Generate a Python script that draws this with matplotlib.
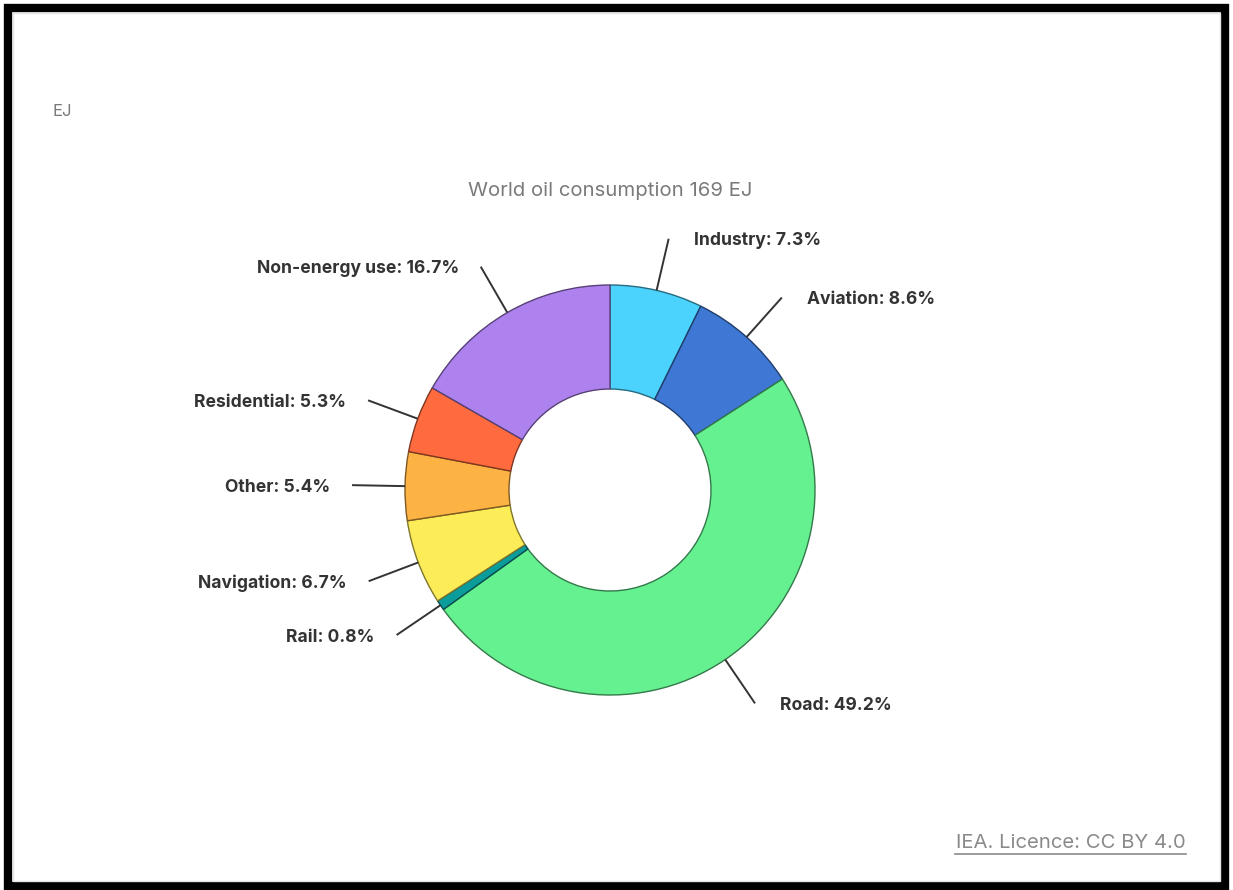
import numpy as np
import matplotlib
matplotlib.use("Agg")
import matplotlib.pyplot as plt
from matplotlib.colors import to_rgb
from matplotlib.patches import Rectangle

# world oil consumption by sector, share in %
sectors = ["Industry", "Aviation", "Road", "Rail", "Navigation",
           "Other", "Residential", "Non-energy use"]
shares = [7.3, 8.6, 49.2, 0.8, 6.7, 5.4, 5.3, 16.7]
colors = ["#4cd3fd", "#3f78d4", "#66f191", "#0b9c9c", "#fcec58",
          "#fdb244", "#ff6b3f", "#ae82ee"]

title = "World oil consumption 169 EJ"
unit = "EJ"
source = "IEA. Licence: CC BY 4.0"

W, H = 1233, 890
fig = plt.figure(figsize=(W / 100, H / 100), dpi=100)
ax = fig.add_axes([0, 0, 1, 1])

cx, cy = 610, H - 490
R = 205
hole = 101

wedges, _ = ax.pie(shares, colors=colors, startangle=90, counterclock=False,
                   center=(cx, cy), radius=R,
                   wedgeprops=dict(width=R - hole, linewidth=1.0))
for w, c in zip(wedges, colors):
    w.set_edgecolor(tuple(v * 0.5 for v in to_rgb(c)))

ax.set_xlim(0, W)
ax.set_ylim(0, H)
ax.axis("off")

# leader lines and labels
lab_font = dict(family=["Inter", "DejaVu Sans"], fontsize=12.6,
                fontweight="bold", color="#333333")
cum = np.cumsum([0] + shares)
for i, (name, s) in enumerate(zip(sectors, shares)):
    mid = np.deg2rad(90 - (cum[i] + s / 2) * 3.6)
    x0, y0 = cx + R * np.cos(mid), cy + R * np.sin(mid)
    x1, y1 = cx + 258 * np.cos(mid), cy + 258 * np.sin(mid)
    ax.plot([x0, x1], [y0, y1], color="#333333", lw=1.4, solid_capstyle="butt")
    if np.cos(mid) >= 0:
        ax.text(x1 + 25, y1 - 2, f"{name}: {s}%", ha="left", va="center", **lab_font)
    else:
        ax.text(x1 - 22, y1 - 2, f"{name}: {s}%", ha="right", va="center", **lab_font)

ax.text(cx, H - 191, title, ha="center", va="center", fontsize=14.6,
        color="#7a7a7a", family=["Inter", "DejaVu Sans"])
ax.text(52, H - 112, unit, ha="left", va="center", fontsize=12,
        color="#7a7a7a", family=["Inter", "DejaVu Sans"])
ax.text(1186, H - 843, source, ha="right", va="center", fontsize=14.6,
        color="#8a8a8a", family=["Inter", "DejaVu Sans"])
ax.plot([955, 1186], [H - 854, H - 854], color="#8a8a8a", lw=1.2)

# black frame around the card
ax.add_patch(Rectangle((8, 4), W - 16, H - 12, fill=False,
                       edgecolor="black", linewidth=6))
ax.add_patch(Rectangle((13, 9), W - 26, H - 22, fill=False,
                       edgecolor="#e4e4e4", linewidth=1))

fig.savefig("out.png", dpi=100, facecolor="white")
